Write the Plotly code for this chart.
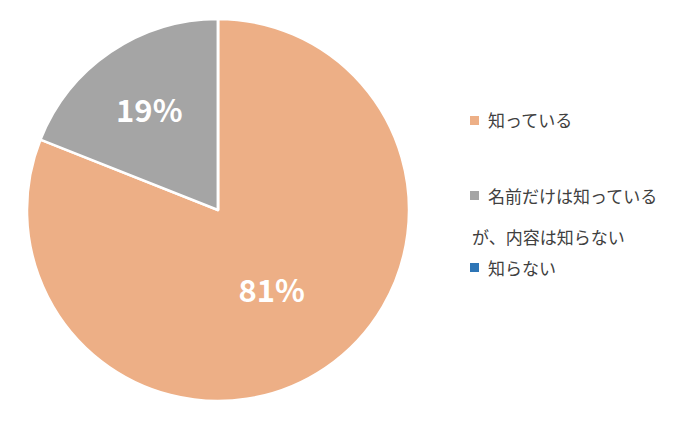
import plotly.graph_objects as go

labels = ["知っている", "名前だけは知っている<br>が、内容は知らない", "知らない"]
values = [81, 19, 0]
colors = ["#EDAF86", "#A5A5A5", "#2E75B6"]
legend_y = [112, 187, 259]  # pixel rows from top

fig = go.Figure(go.Pie(
    labels=labels, values=values, sort=False, direction="clockwise", rotation=0,
    marker=dict(colors=colors, line=dict(color="white", width=2.5)),
    texttemplate=["<b>%{percent:.0%}</b>", "<b>%{percent:.0%}</b>", ""],
    textposition="inside", insidetextorientation="horizontal",
    textfont=dict(color="white", size=31, family="Noto Sans CJK JP"),
    showlegend=False, hoverinfo="label+percent",
    domain=dict(x=[15/700, 405/700], y=[34/423, 424/423 if False else 1.0]),
))
fig.data[0].domain.y = [(423-393)/423, (423-11)/423]
fig.data[0].domain.x = [(210-195)/700, (210+195)/700]

for lab, col, yp in zip(labels, colors, legend_y):
    fig.add_shape(type="rect", xref="paper", yref="paper",
                  x0=462/700, x1=471/700, y0=1-(yp+5)/423, y1=1-(yp-4)/423,
                  fillcolor=col, line=dict(width=0))
    for i, part in enumerate(lab.split("<br>")):
        fig.add_annotation(text=part, xref="paper", yref="paper",
                           x=(478 if i == 0 else 462)/700, y=1-(yp + 41*i)/423,
                           xanchor="left", yanchor="middle",
                           showarrow=False, align="left",
                           font=dict(size=17, color="#404040", family="Noto Sans CJK JP"))

fig.update_layout(width=700, height=423, margin=dict(l=0, r=0, t=0, b=0),
                  paper_bgcolor="white", plot_bgcolor="white")
fig.write_html("out.html")
